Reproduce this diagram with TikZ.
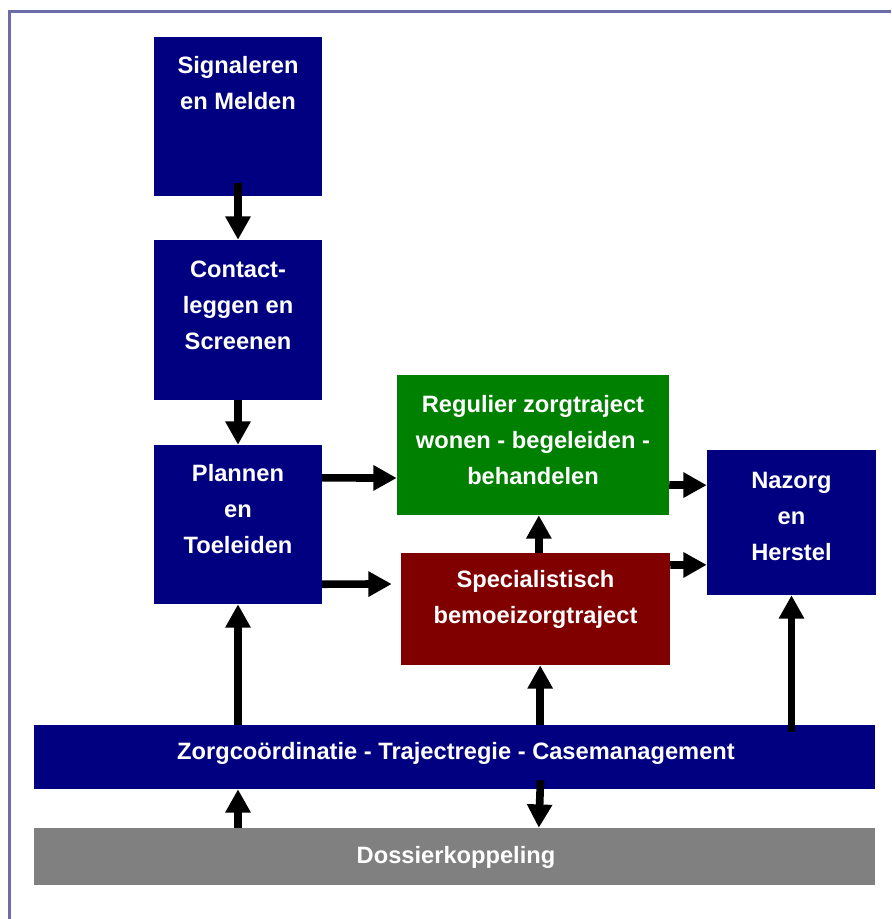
\documentclass[tikz,border=0pt]{standalone}
\usepackage{fontspec}
\setmainfont{Liberation Sans}
\usetikzlibrary{arrows.meta}

\definecolor{navy}{RGB}{0,0,128}
\definecolor{groen}{RGB}{0,128,0}
\definecolor{donkerrood}{RGB}{128,0,0}
\definecolor{grijs}{RGB}{128,128,128}
\definecolor{kader}{RGB}{108,108,168}

\begin{document}
\begin{tikzpicture}[x=0.03cm,y=-0.03cm,
  blok/.style={fill=navy,inner sep=0pt,minimum width=5.04cm,minimum height=4.77cm},
  tekst/.style={text=white,align=center,inner sep=0pt,
    font=\fontsize{20.2}{30.7}\selectfont\bfseries},
  pijl/.style={line width=0.23cm,-{Triangle[length=0.7cm,width=0.72cm]}}]

\useasboundingbox (0,0) rectangle (891,919);
\draw[kader,line width=0.09cm] (9,919) -- (9,11) -- (891,11);

% blokken
\node[blok] (S) at (238,116.5) {};
\node[blok,minimum height=4.8cm] (C) at (238,320) {};
\node[blok] (P) at (238,524.5) {};
\node[blok,fill=groen,minimum width=8.16cm,minimum height=4.2cm] (R) at (533,445) {};
\node[blok,fill=donkerrood,minimum width=8.07cm,minimum height=3.36cm] (Sp) at (535.5,609) {};
\node[blok,minimum width=5.07cm,minimum height=4.35cm] (N) at (791.5,522.5) {};
\node[blok,minimum width=25.23cm,minimum height=1.92cm] (Z) at (454.5,757) {};
\node[blok,fill=grijs,minimum width=25.23cm,minimum height=1.71cm] (D) at (454.5,856.5) {};

% teksten
\node[tekst] (St) at (238,83) {Signaleren\\en Melden};
\node[tekst] (Ct) at (238,305) {Contact-\\leggen en\\Screenen};
\node[tekst] (Pt) at (238,509) {Plannen\\en\\Toeleiden};
\node[tekst] (Rt) at (533,440) {Regulier zorgtraject\\wonen - begeleiden -\\behandelen};
\node[tekst] (Spt) at (535.5,599) {Specialistisch\\bemoeizorgtraject};
\node[tekst] (Nt) at (791.5,516) {Nazorg\\en\\Herstel};
\node[tekst] (Zt) at (456,753) {Zorgco\"ordinatie - Trajectregie - Casemanagement};
\node[tekst] (Dt) at (456,857) {Dossierkoppeling};

% pijlen
\draw[pijl] ([yshift=0.39cm]S.south) -- (C.north);
\draw[pijl] (C.south) -- (P.north);
\draw[pijl] ([yshift=1.4cm]P.east) -- ([yshift=-0.99cm]R.west);
\draw[pijl,shorten >=0.27cm] ([yshift=-1.79cm]P.east) -- ([yshift=0.75cm]Sp.west);
\draw[pijl] ([xshift=0.1cm]Sp.north) -- ([xshift=0.1cm]Sp.north |- R.south);
\draw[pijl] ([yshift=-1.2cm]R.east) -- ([yshift=1.12cm]N.west);
\draw[pijl] ([yshift=1.32cm]Sp.east) -- ([yshift=-1.27cm]N.west);
\draw[pijl] (P.south |- Z.north) -- (P.south);
\draw[pijl] ([xshift=0.14cm]Sp.south |- Z.north) -- ([xshift=0.14cm]Sp.south);
\draw[pijl,shorten <=-0.21cm] (N.south |- Z.north) -- (N.south);
\draw[pijl] (P.south |- D.north) -- (P.south |- Z.south);
\draw[pijl,shorten <=-0.27cm] ([xshift=0.14cm]Sp.south |- Z.south) -- ([xshift=0.1cm]Sp.south |- D.north);

\end{tikzpicture}
\end{document}
